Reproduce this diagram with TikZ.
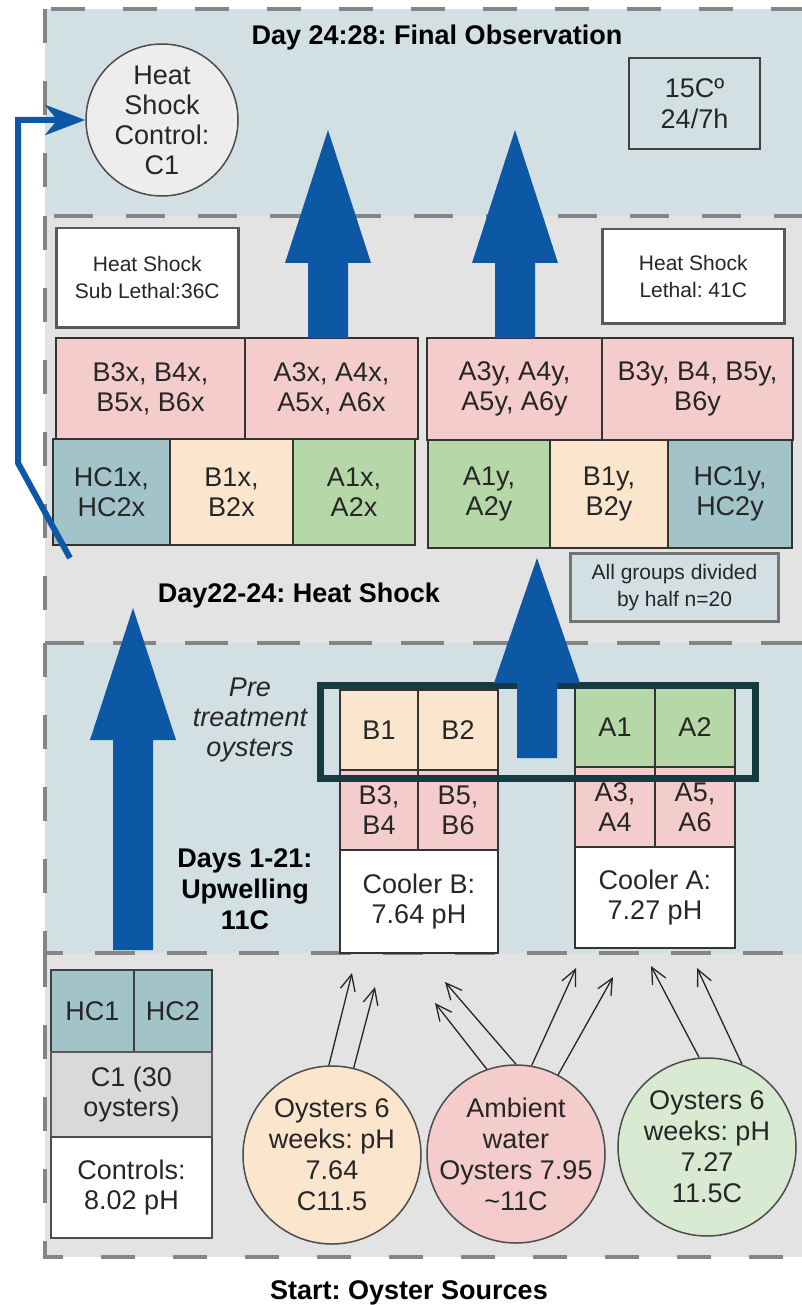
\documentclass[tikz,border=0pt]{standalone}
\usepackage{fontspec}
\setmainfont{Liberation Sans}
\usepackage{tikz}
\usetikzlibrary{arrows.meta, positioning}
\definecolor{pBlue}{HTML}{D2E0E4}
\definecolor{pGrey}{HTML}{E3E3E3}
\definecolor{cPink}{HTML}{F4CCCC}
\definecolor{cPeach}{HTML}{FCE5CD}
\definecolor{cGreen}{HTML}{B6D7A8}
\definecolor{cTeal}{HTML}{A2C4C9}
\definecolor{cMint}{HTML}{D9EAD3}
\definecolor{aBlue}{HTML}{0C58A4}
\definecolor{fDark}{HTML}{173A40}
\definecolor{dGrey}{HTML}{858585}
\frenchspacing

\begin{document}
\begin{tikzpicture}[x=1pt, y=-1pt,
  panel/.style={draw=dGrey, line width=4.5pt, dash pattern=on 34pt off 38pt},
  cell/.style={draw=black!80, line width=1.5pt, anchor=north west, inner sep=0pt, outer sep=0pt,
               align=center, font=\fontsize{27}{30}\selectfont, text=black!85},
  note/.style={draw=black!65, line width=2.5pt, fill=white, anchor=north west, inner sep=0pt,
               align=center, font=\fontsize{21}{27}\selectfont, text=black!85},
  src/.style={circle, draw=black!70, line width=1.5pt, inner sep=-10pt, minimum size=178pt,
              align=center, font=\fontsize{27}{31}\selectfont, text=black!85},
  feed/.style={-{Straight Barb[length=16pt,width=15pt]}, line width=1.3pt, black!85},
  title/.style={font=\fontsize{27}{31}\selectfont\bfseries, anchor=north, inner sep=0pt, align=center}]
  \useasboundingbox (0,0) rectangle (802,1305);
  % stage panels
  \fill[pBlue] (45,9) rectangle (830,216);
  \fill[pGrey] (45,216) rectangle (830,643);
  \fill[pBlue] (45,643) rectangle (830,953);
  \fill[pGrey] (45,953) rectangle (830,1257);
  \foreach \ptop/\pbot in {9/216, 216/643, 643/953, 953/1257}
    \draw[panel] (45,\ptop) rectangle (830,\pbot);

  % day 24-28
  \node[title] (fin) at (437,25) {Day 24:28: Final Observation};
  \node[src, fill=black!7, minimum size=152pt, inner sep=-6pt, font=\fontsize{27}{30}\selectfont]
    (hsc) at (162,120) {Heat\\Shock\\Control:\\C1};
  \node[note, fill=none, draw=black!75, line width=2pt, minimum width=131pt, minimum height=91pt,
        font=\fontsize{27}{31}\selectfont] (temp) at (628,57) {15Cº\\24/7h};

  % day 22-24
  \node[note, minimum width=182pt, minimum height=99pt] (sub) at (55,227) {Heat Shock\\Sub Lethal:36C};
  \node[note, minimum width=182pt, minimum height=94pt] (leth) at (601,228) {Heat Shock\\Lethal: 41C};
  \node[cell, fill=cPink, minimum width=189pt, minimum height=101pt] (b3x) at (56,338) {B3x, B4x,\\B5x, B6x};
  \node[cell, fill=cPink, minimum width=173pt, minimum height=101pt, right=0pt of b3x] (a3x) {A3x, A4x,\\A5x, A6x};
  \node[cell, fill=cTeal, minimum width=117pt, minimum height=106pt] (hc1x) at (53,439) {HC1x,\\HC2x};
  \node[cell, fill=cPeach, minimum width=123pt, minimum height=106pt, right=0pt of hc1x] (b1x) {B1x,\\B2x};
  \node[cell, fill=cGreen, minimum width=122pt, minimum height=106pt, right=0pt of b1x] (a1x) {A1x,\\A2x};
  \node[cell, fill=cPink, minimum width=175pt, minimum height=102pt] (a3y) at (427,338) {A3y, A4y,\\A5y, A6y};
  \node[cell, fill=cPink, minimum width=191pt, minimum height=102pt, right=0pt of a3y] (b3y) {B3y, B4, B5y,\\B6y};
  \node[cell, fill=cGreen, minimum width=122pt, minimum height=108pt] (a1y) at (428,440) {A1y,\\A2y};
  \node[cell, fill=cPeach, minimum width=118pt, minimum height=108pt, right=0pt of a1y] (b1y) {B1y,\\B2y};
  \node[cell, fill=cTeal, minimum width=124pt, minimum height=108pt, right=0pt of b1y] (hc1y) {HC1y,\\HC2y};
  \node[note, fill=pBlue, draw=black!55, line width=3pt, minimum width=208pt, minimum height=68pt]
    (half) at (569,552) {All groups divided\\by half n=20};
  \node[title] (hs) at (299,583) {Day22-24: Heat Shock};

  % days 1-21
  \node[title] (upw) at (245,848) {Days 1-21:\\Upwelling\\11C};
  \node[anchor=north, inner sep=0pt, align=center, font=\fontsize{27}{30}\selectfont\itshape, text=black!85]
    (pretxt) at (250,678) {Pre\\treatment\\oysters};
  \node[cell, fill=cPeach, minimum width=78pt, minimum height=80pt] (b1) at (340,690) {B1};
  \node[cell, fill=cPeach, minimum width=80pt, minimum height=80pt, right=0pt of b1] (b2) {B2};
  \node[cell, fill=cPink, minimum width=78pt, minimum height=80pt] (b34) at (340,770) {B3,\\B4};
  \node[cell, fill=cPink, minimum width=80pt, minimum height=80pt, right=0pt of b34] (b56) {B5,\\B6};
  \node[cell, fill=white, minimum width=158pt, minimum height=103pt] (coolb) at (340,850) {Cooler B:\\7.64 pH};
  \node[cell, fill=cGreen, minimum width=80pt, minimum height=80pt] (a1) at (575,687) {A1};
  \node[cell, fill=cGreen, minimum width=80pt, minimum height=80pt, right=0pt of a1] (a2) {A2};
  \node[cell, fill=cPink, minimum width=80pt, minimum height=80pt] (a34) at (575,767) {A3,\\A4};
  \node[cell, fill=cPink, minimum width=80pt, minimum height=80pt, right=0pt of a34] (a56) {A5,\\A6};
  \node[cell, fill=white, minimum width=160pt, minimum height=101pt] (coola) at (575,847) {Cooler A:\\7.27 pH};
  \node[draw=fDark, line width=7pt, anchor=north west, inner sep=0pt, minimum width=435pt, minimum height=93pt]
    (pre) at (317,682) {};

  % start
  \node[cell, fill=cTeal, draw=black!75, line width=2.5pt, minimum width=83pt, minimum height=82pt] (hc1) at (51,970) {HC1};
  \node[cell, fill=cTeal, draw=black!75, line width=2.5pt, minimum width=78pt, minimum height=82pt, right=0pt of hc1] (hc2) {HC2};
  \node[cell, fill=black!15, draw=black!65, line width=2.5pt, minimum width=161pt, minimum height=85pt] (c1) at (51,1052) {C1 (30\\oysters)};
  \node[cell, fill=white, draw=black!70, line width=2pt, minimum width=161pt, minimum height=101pt] (ctrl) at (51,1137) {Controls:\\8.02 pH};
  \node[src, fill=cPeach] (oyb) at (332,1155) {Oysters 6\\weeks: pH\\7.64\\C11.5};
  \node[src, fill=cPink] (amb) at (516,1154) {Ambient\\water\\Oysters 7.95\\\textasciitilde11C};
  \node[src, fill=cMint] (oya) at (707,1147) {Oysters 6\\weeks: pH\\7.27\\11.5C};
  \node[title] (start) at (409,1280) {Start: Oyster Sources};

  % oysters into the coolers
  \coordinate (inB1) at (352,973);
  \coordinate (inB2) at (375,987);
  \coordinate (ambB1) at (435,1003);
  \coordinate (ambB2) at (445,982);
  \coordinate (ambA1) at (576,968);
  \coordinate (ambA2) at (613,977);
  \coordinate (inA1) at (651,966);
  \coordinate (inA2) at (697,968);
  \draw[feed] (oyb.92) -- (inB1);
  \draw[feed] (oyb.76) -- (inB2);
  \draw[feed] (amb.109) -- (ambB1);
  \draw[feed] (amb.90) -- (ambB2);
  \draw[feed] (amb.80) -- (ambA1);
  \draw[feed] (amb.62) -- (ambA2);
  \draw[feed] (oya.95) -- (inA1);
  \draw[feed] (oya.67) -- (inA2);

  % big stage arrows
  \foreach \ax/\atip/\abase/\afoot in {328/130/263/338, 515/130/263/338, 133/608/740/950, 537/558/683/758}
    \fill[aBlue] (\ax-20,\afoot) -- (\ax-20,\abase) -- (\ax-43,\abase) -- (\ax,\atip)
      -- (\ax+43,\abase) -- (\ax+20,\abase) -- (\ax+20,\afoot) -- cycle;

  % heat shock controls back to the final check
  \coordinate (hcfoot) at (70,558);
  \coordinate (hcbend) at (18,463);
  \draw[aBlue, line width=6pt, -{Stealth[length=40pt,width=30pt,inset=12pt]}]
    (hcfoot) -- (hcbend) |- (hsc.west);
\end{tikzpicture}
\end{document}
